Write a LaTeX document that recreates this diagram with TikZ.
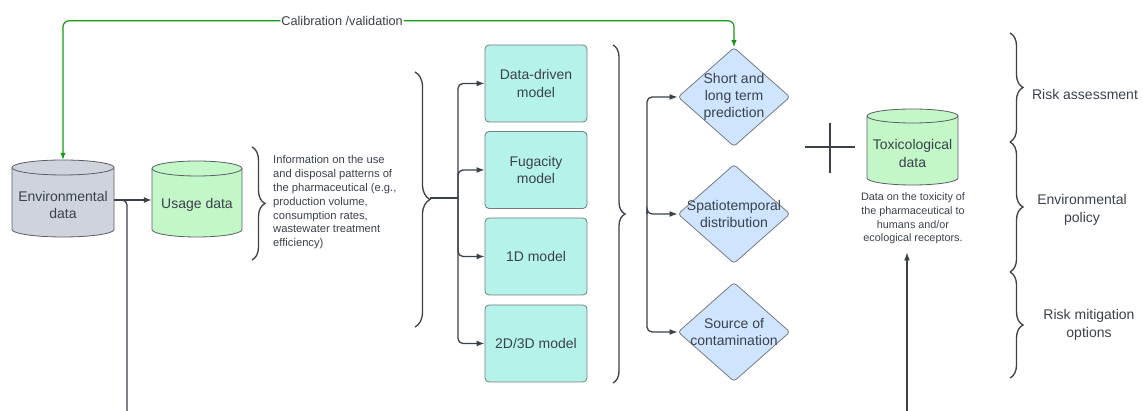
\documentclass[tikz,border=0pt]{standalone}
\usepackage{fontspec}
\setmainfont{Liberation Sans}
\usetikzlibrary{arrows.meta, shapes.geometric, decorations.pathreplacing, calc}

\definecolor{linegray}{HTML}{3A414A}
\definecolor{envfill}{HTML}{CED3DC}
\definecolor{usefill}{HTML}{C3F7C8}
\definecolor{modelfill}{HTML}{B5F3EA}
\definecolor{predfill}{HTML}{CFE4FF}
\definecolor{calgreen}{HTML}{129A12}

\begin{document}
\begin{tikzpicture}[
      x=1pt, y=1pt,
      >={Latex[length=8pt,width=6pt]},
      label text/.style={text=linegray,font=\fontsize{14}{17.3}\selectfont,align=center},
      note text/.style={text=linegray,font=\fontsize{11.2}{13.8}\selectfont,inner sep=0pt},
      cyl/.style={draw=linegray!85,line width=0.8pt},
      model/.style={draw=linegray!70,line width=0.8pt,fill=modelfill,rounded corners=4pt,
        minimum width=102pt,minimum height=77pt,label text},
      outcome/.style={diamond,draw=linegray!70,line width=0.8pt,fill=predfill,rounded corners=3pt,
        minimum width=112pt,minimum height=99pt,inner sep=0pt},
      flow/.style={->,draw=linegray,line width=1.3pt,rounded corners=5pt},
      feedback/.style={{Latex[length=7pt,width=5.5pt]}-{Latex[length=7pt,width=5.5pt]},draw=calgreen,line width=1.2pt,rounded corners=6pt},
      grouping/.style={draw=linegray,line width=1.3pt,decorate,decoration={brace,amplitude=#1}},
      grouping/.default=13pt
      ]
      \useasboundingbox (0,0) rectangle (1143,411);
      % data sources
      % environmental data
      \draw [cyl,fill=envfill] (12,243.5) -- (12,181.5) arc[start angle=180,end angle=360,x radius=51pt,y radius=7.5pt]
        -- (114,243.5) arc[start angle=0,end angle=180,x radius=51pt,y radius=7.5pt] -- cycle;
      \draw [cyl] (12,243.5) arc[start angle=180,end angle=360,x radius=51pt,y radius=7.5pt];
      \node [label text,minimum width=102pt,minimum height=90pt,inner xsep=0pt] (env) at (63,206) {Environmental\\data};
      % usage data
      \draw [cyl,fill=usefill] (152,242.5) -- (152,181.5) arc[start angle=180,end angle=360,x radius=45pt,y radius=7.5pt]
        -- (242,242.5) arc[start angle=0,end angle=180,x radius=45pt,y radius=7.5pt] -- cycle;
      \draw [cyl] (152,242.5) arc[start angle=180,end angle=360,x radius=45pt,y radius=7.5pt];
      \node [label text,minimum width=90pt,inner xsep=0pt] (usage) at (197,206) {Usage data};
      % toxicological data
      \draw [cyl,fill=usefill] (867,295) -- (867,233) arc[start angle=180,end angle=360,x radius=45.5pt,y radius=7pt]
        -- (958,295) arc[start angle=0,end angle=180,x radius=45.5pt,y radius=7pt] -- cycle;
      \draw [cyl] (867,295) arc[start angle=180,end angle=360,x radius=45.5pt,y radius=7pt];
      \node [label text,minimum width=91pt,inner xsep=0pt] (tox) at (912.5,257.5) {Toxicological\\data};
      % notes
      \node [note text,anchor=north west,align=left] (usenote) at (273,255.5)
        {Information on the use\\and disposal patterns of\\the pharmaceutical (e.g.,\\production volume,\\consumption rates,\\wastewater treatment\\efficiency)};
      \node [note text,font=\fontsize{10.8}{13.8}\selectfont,anchor=north,align=center] (toxnote) at (913,218.5)
        {Data on the toxicity of\\the pharmaceutical to\\humans and/or\\ecological receptors.};
      % models
      \node [model] (m1) at (536,327.5) {Data-driven\\model};
      \node [model] (m2) at (536,241) {Fugacity\\model};
      \node [model] (m3) at (536,154.5) {1D model};
      \node [model] (m4) at (536,67.5) {2D/3D model};
      % outcomes
      \node [outcome,label={[label text]center:{Short and\\long term\\prediction}}] (d1) at (734,314) {};
      \node [outcome,label={[label text]center:{Spatiotemporal\\distribution}}] (d2) at (734,197) {};
      \node [outcome,label={[label text]center:{Source of\\contamination}}] (d3) at (734,79) {};
      % uses
      \node [label text] (assess) at (1085,316) {Risk assessment};
      \node [label text] (policy) at (1082,201) {Environmental\\policy};
      \node [label text] (mitig) at (1089,86) {Risk mitigation\\options};
      % braces
      \draw [grouping=13pt] (252,264) -- (252,151);
      \draw [grouping=15pt] (415,339) -- (415,84);
      \draw [grouping=12pt] (613,366) -- (613,28);
      \draw [grouping=13pt] (1010,378) -- (1010,269);
      \draw [grouping=13pt] (1010,269) -- (1010,139);
      \draw [grouping=13pt] (1010,139) -- (1010,33);
      % plus
      \draw [draw=linegray,line width=2pt] (805,264) -- (855,264) (830,288) -- (830,238);
      % edges
      % environmental data - usage data
      \coordinate (envdown) at (127,0);
      \draw [draw=linegray,line width=1.3pt,rounded corners=5pt] ([yshift=5pt]env.east) -| (envdown);
      \draw [flow] ([yshift=5pt]env.east) -- ([yshift=5pt]env.east -| usage.west);
      % brace - models
      \coordinate (mtip) at (430,213);
      \coordinate (msplit) at (458,213);
      \draw [draw=linegray,line width=1.3pt] (mtip) -- (msplit);
      \foreach \m in {m1,m2,m3,m4} {
          \draw [flow] (msplit) |- (\m.west);
      }
      % split - outcomes
      \coordinate (osplit) at (647,197);
      \foreach \d in {d1,d2,d3} {
          \draw [flow] (osplit) |- (\d.west);
      }
      % toxicological data
      \coordinate (toxup) at (907,0);
      \draw [flow,shorten >=8pt] (toxup) -- (toxup |- toxnote.south);
      % calibration
      \draw [feedback] (env.north) -- ++(0,139) -| node [pos=0.208,fill=white,inner xsep=1pt,inner ysep=1pt,
        text=linegray,font=\fontsize{12.7}{14}\selectfont] (calib) {Calibration /validation} (d1.north);
\end{tikzpicture}
\end{document}
